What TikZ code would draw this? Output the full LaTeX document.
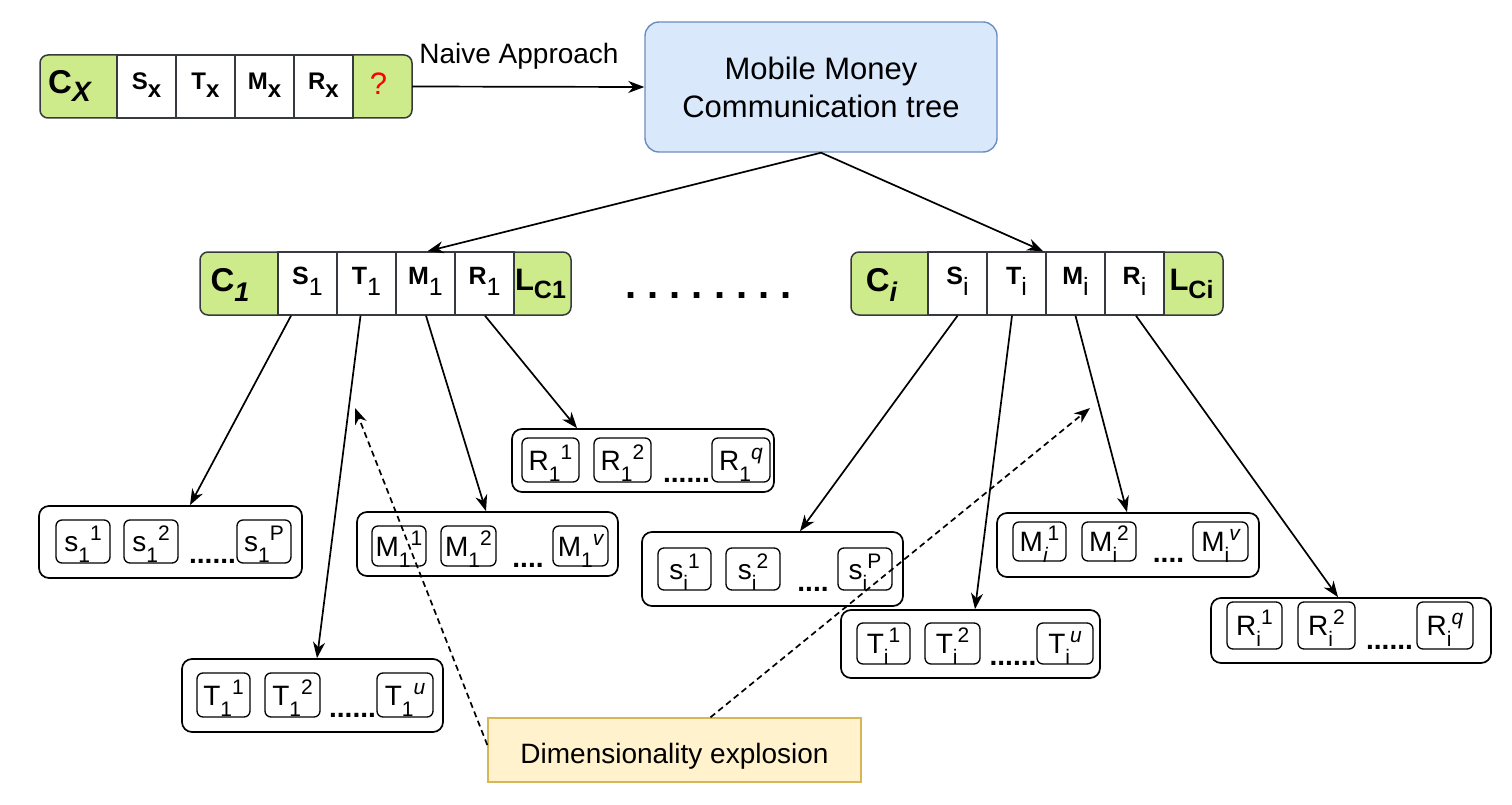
\documentclass[tikz,border=0pt]{standalone}
\usepackage{fontspec}
\setmainfont{Liberation Sans}
\usetikzlibrary{arrows.meta}
\definecolor{gfill}{HTML}{CDEB8B}
\definecolor{bfill}{HTML}{DAE8FC}
\definecolor{bline}{HTML}{6C8EBF}
\definecolor{yfill}{HTML}{FFF2CC}
\definecolor{yline}{HTML}{D6B656}
\definecolor{rline}{HTML}{36393D}
\newcommand\fsz[1]{\fontsize{#1}{#1}\selectfont}
\newcommand\lowr[2]{\raisebox{-#1pt}{#2}}
\newcommand\upr[2]{\raisebox{#1pt}{#2}}
\newcommand\leaf[3]{{\fsz{28}#1}\lowr{11}{\fsz{21}#2}\upr{11}{\fsz{21}#3}}
\tikzset{
  recline/.style={draw=rline, line width=1.5pt},
  midcellx/.style={recline, fill=white, minimum width=59pt, minimum height=63pt, inner sep=0pt, text height=7pt, text depth=0pt, font={\fsz{24}\bfseries}},
  midcell/.style={recline, fill=white, minimum width=59pt, minimum height=63pt, inner sep=0pt, text height=1pt, text depth=0pt, font={\fsz{25}\bfseries}},
  endC/.style={minimum width=77pt, minimum height=63pt, inner sep=0pt, text height=15pt, text depth=0pt, font={\fsz{33}\bfseries}},
  endL/.style={minimum width=57pt, minimum height=63pt, inner sep=0pt, text height=13pt, text depth=0pt, font={\fsz{31}\bfseries}},
  endQ/.style={minimum width=59pt, minimum height=63pt, inner sep=0pt, text height=17pt, text depth=0pt, font={\fsz{31}}},
  grpbox/.style={draw, fill=white, line width=1.7pt, rounded corners=10pt, inner sep=0pt},
  ibox/.style={draw, line width=1.3pt, rounded corners=6pt, inner sep=0pt, text height=20pt, text depth=0pt},
  dotsn/.style={anchor=base, inner sep=0pt, font={\fsz{28}\bfseries}},
  arr/.style={draw, line width=1.7pt, -{Stealth[length=16pt,width=12pt,inset=5pt]}},
  darr/.style={arr, dash pattern=on 6pt off 4pt}
}
\begin{document}
\begin{tikzpicture}[x=1pt,y=-1pt]
\useasboundingbox[fill=white] (0,0) rectangle (1512,805);

% ---------- C_X record ----------
\fill[gfill, rounded corners=8pt] (40,55) rectangle (412,118);
\node[endC] (cxC) at (78.5,86.5) {C\lowr{8}{\fsz{28}\itshape X}\hspace*{18pt}};
\node[midcellx] (cxS) at (146.5,86.5) {S\lowr{8}{x}};
\node[midcellx] (cxT) at (205.5,86.5) {T\lowr{8}{x}};
\node[midcellx] (cxM) at (264.5,86.5) {M\lowr{8}{x}};
\node[midcellx] (cxR) at (323.5,86.5) {R\lowr{8}{x}};
\node[endQ] (cxQ) at (382.5,86.5) {\textcolor{red}{?}\hspace*{8pt}};
\draw[recline, rounded corners=8pt] (40,55) rectangle (412,118);

% ---------- Mobile money box ----------
\node[draw=bline, fill=bfill, line width=1.4pt, rounded corners=14pt, minimum width=352pt, minimum height=130pt, inner sep=0pt, align=center, font={\fontsize{31}{38}\selectfont}] (mm) at (821,87) {Mobile Money\\Communication tree};

\draw[arr] (cxQ.east) -- (mm.west);
\node[anchor=base, inner sep=0pt, font={\fsz{28}}] (naive) at (519,64) {Naive Approach};

% ---------- C_1 record ----------
\fill[gfill, rounded corners=8pt] (200,252) rectangle (571,315);
\node[endC] (c1C) at (239,283.5) {C\lowr{10}{\fsz{27}\itshape 1}\hspace*{18pt}};
\node[midcell] (c1S) at (307.5,283.5) {S\lowr{11}{\fsz{25}\mdseries 1}};
\node[midcell] (c1T) at (366.5,283.5) {T\lowr{11}{\fsz{25}\mdseries 1}};
\node[midcell] (c1M) at (425.5,283.5) {M\lowr{11}{\fsz{25}\mdseries 1}};
\node[midcell] (c1R) at (484.5,283.5) {R\lowr{11}{\fsz{25}\mdseries 1}};
\node[endL] (c1L) at (542.5,283.5) {L\lowr{8}{\fsz{25}C1}\hspace*{4pt}};
\draw[recline, rounded corners=8pt] (200,252) rectangle (571,315);

% ---------- C_i record ----------
\fill[gfill, rounded corners=8pt] (851,252) rectangle (1223,315);
\node[endC] (ciC) at (889.5,283.5) {C\lowr{10}{\fsz{27}\itshape i}\hspace*{16pt}};
\node[midcell] (ciS) at (957.5,283.5) {S\lowr{11}{\fsz{25}\mdseries i}};
\node[midcell] (ciT) at (1016.5,283.5) {T\lowr{11}{\fsz{25}\mdseries i}};
\node[midcell] (ciM) at (1075.5,283.5) {M\lowr{11}{\fsz{25}\mdseries i}};
\node[midcell] (ciR) at (1134.5,283.5) {R\lowr{11}{\fsz{25}\mdseries i}};
\node[endL] (ciL) at (1193.5,283.5) {L\lowr{8}{\fsz{25}Ci}\hspace*{4pt}};
\draw[recline, rounded corners=8pt] (851,252) rectangle (1223,315);

\node[anchor=base, inner sep=0pt, font={\fsz{40}\bfseries}] (mdots) at (708.5,298) {\frenchspacing . . . . . . . .};

% ---------- leaf groups ----------
% s_1
\node[grpbox, minimum width=263pt, minimum height=72pt] (gs1) at (170.5,542) {};
\node[ibox, minimum width=54pt, minimum height=43pt] (s11) at (83,541.5) {\leaf{s}{1}{1}};
\node[ibox, minimum width=54pt, minimum height=43pt] (s12) at (151,541.5) {\leaf{s}{1}{2}};
\node[ibox, minimum width=54pt, minimum height=43pt] (s1p) at (264,541.5) {\leaf{s}{1}{P}};
\node[dotsn] (s1d) at (212.5,563) {......};
% M_1
\node[grpbox, minimum width=261pt, minimum height=64pt] (gm1) at (487.5,544) {};
\node[ibox, minimum width=54pt, minimum height=40pt] (m11) at (399,546) {\leaf{M}{1}{1}};
\node[ibox, minimum width=55pt, minimum height=40pt] (m12) at (468.5,546) {\leaf{M}{1}{2}};
\node[ibox, minimum width=55pt, minimum height=40pt] (m1v) at (580.5,546) {\leaf{M}{1}{\itshape v}};
\node[dotsn] (m1d) at (528,567) {....};
% R_1
\node[grpbox, minimum width=262pt, minimum height=63pt] (gr1) at (643,460.5) {};
\node[ibox, minimum width=57pt, minimum height=44pt] (r11) at (550.5,460) {\leaf{R}{1}{1}};
\node[ibox, minimum width=57pt, minimum height=44pt] (r12) at (622.5,460) {\leaf{R}{1}{2}};
\node[ibox, minimum width=58pt, minimum height=44pt] (r1q) at (741,460) {\leaf{R}{1}{\itshape q}};
\node[dotsn] (r1d) at (686.5,482) {......};
% T_1
\node[grpbox, minimum width=261pt, minimum height=73pt] (gt1) at (312.5,695.5) {};
\node[ibox, minimum width=53pt, minimum height=44pt] (t11) at (223.5,695) {\leaf{T}{1}{1}};
\node[ibox, minimum width=55pt, minimum height=44pt] (t12) at (292.5,695) {\leaf{T}{1}{2}};
\node[ibox, minimum width=56pt, minimum height=44pt] (t1u) at (405,695) {\leaf{T}{1}{\itshape u}};
\node[dotsn] (t1d) at (352.5,717) {......};
% s_i
\node[grpbox, minimum width=261pt, minimum height=74pt] (gsi) at (772.5,569) {};
\node[ibox, minimum width=53pt, minimum height=42pt] (si1) at (684.5,569) {\leaf{s}{i}{1}};
\node[ibox, minimum width=54pt, minimum height=42pt] (si2) at (753,569) {\leaf{s}{i}{2}};
\node[ibox, minimum width=54pt, minimum height=42pt] (sip) at (865,569) {\leaf{s}{i}{P}};
\node[dotsn] (sid) at (813,591) {....};
% T_i
\node[grpbox, minimum width=259pt, minimum height=68pt] (gti) at (970.5,644) {};
\node[ibox, minimum width=53pt, minimum height=41pt] (ti1) at (883.5,643.5) {\leaf{T}{i}{1}};
\node[ibox, minimum width=55pt, minimum height=41pt] (ti2) at (952.5,643.5) {\leaf{T}{i}{2}};
\node[ibox, minimum width=56pt, minimum height=41pt] (tiu) at (1065,643.5) {\leaf{T}{i}{\itshape u}};
\node[dotsn] (tid) at (1013,665) {......};
% M_i
\node[grpbox, minimum width=262pt, minimum height=64pt] (gmi) at (1128,545) {};
\node[ibox, minimum width=53pt, minimum height=39pt] (mi1) at (1039.5,541.5) {\leaf{M}{\itshape i}{1}};
\node[ibox, minimum width=54pt, minimum height=39pt] (mi2) at (1109,541.5) {\leaf{M}{i}{2}};
\node[ibox, minimum width=55pt, minimum height=39pt] (miv) at (1220.5,541.5) {\leaf{M}{i}{\itshape v}};
\node[dotsn] (mid) at (1168.5,562) {....};
% R_i
\node[grpbox, minimum width=280pt, minimum height=65pt] (gri) at (1351,630.5) {};
\node[ibox, minimum width=55pt, minimum height=47pt] (ri1) at (1254.5,625.5) {\leaf{R}{i}{1}};
\node[ibox, minimum width=57pt, minimum height=47pt] (ri2) at (1326.5,625.5) {\leaf{R}{i}{2}};
\node[ibox, minimum width=56pt, minimum height=47pt] (riq) at (1445,625.5) {\leaf{R}{i}{\itshape q}};
\node[dotsn] (rid) at (1389.5,649) {......};

% ---------- dimensionality box ----------
\node[draw=yline, fill=yfill, line width=1.4pt, minimum width=373pt, minimum height=64pt, inner sep=0pt, text height=26pt, text depth=0pt, font={\fsz{28}}] (dim) at (674.5,750) {Dimensionality explosion};

% ---------- connectors ----------
\draw[arr] (mm.south) -- ([xshift=2pt]c1M.north);
\draw[arr] (mm.south) -- ([xshift=-2pt]ciM.north west);

\draw[arr] ([xshift=-16.5pt]c1S.south) -- ([xshift=19.5pt]gs1.north);
\draw[arr] ([xshift=-6pt]c1T.south) -- ([xshift=4.5pt]gt1.north);
\draw[arr] ([xshift=0.5pt]c1M.south) -- ([xshift=-1.5pt]gm1.north);
\draw[arr] ([xshift=0.5pt]c1R.south) -- ([xshift=-66pt]gr1.north);

\draw[arr] (ciS.south) -- ([xshift=27.5pt]gsi.north);
\draw[arr] ([xshift=-4.5pt]ciT.south) -- ([xshift=4.5pt]gti.north);
\draw[arr] (ciM.south) -- ([xshift=-1pt]gmi.north);
\draw[arr] ([xshift=1.5pt]ciR.south) -- ([xshift=-13pt]gri.north);

\coordinate (dtip1) at (355,408);
\coordinate (dtip2) at (1090,408);
\draw[darr] ([yshift=5pt]dim.west) -- (dtip1);
\draw[darr] ([xshift=36pt]dim.north) -- (dtip2);
\end{tikzpicture}
\end{document}
